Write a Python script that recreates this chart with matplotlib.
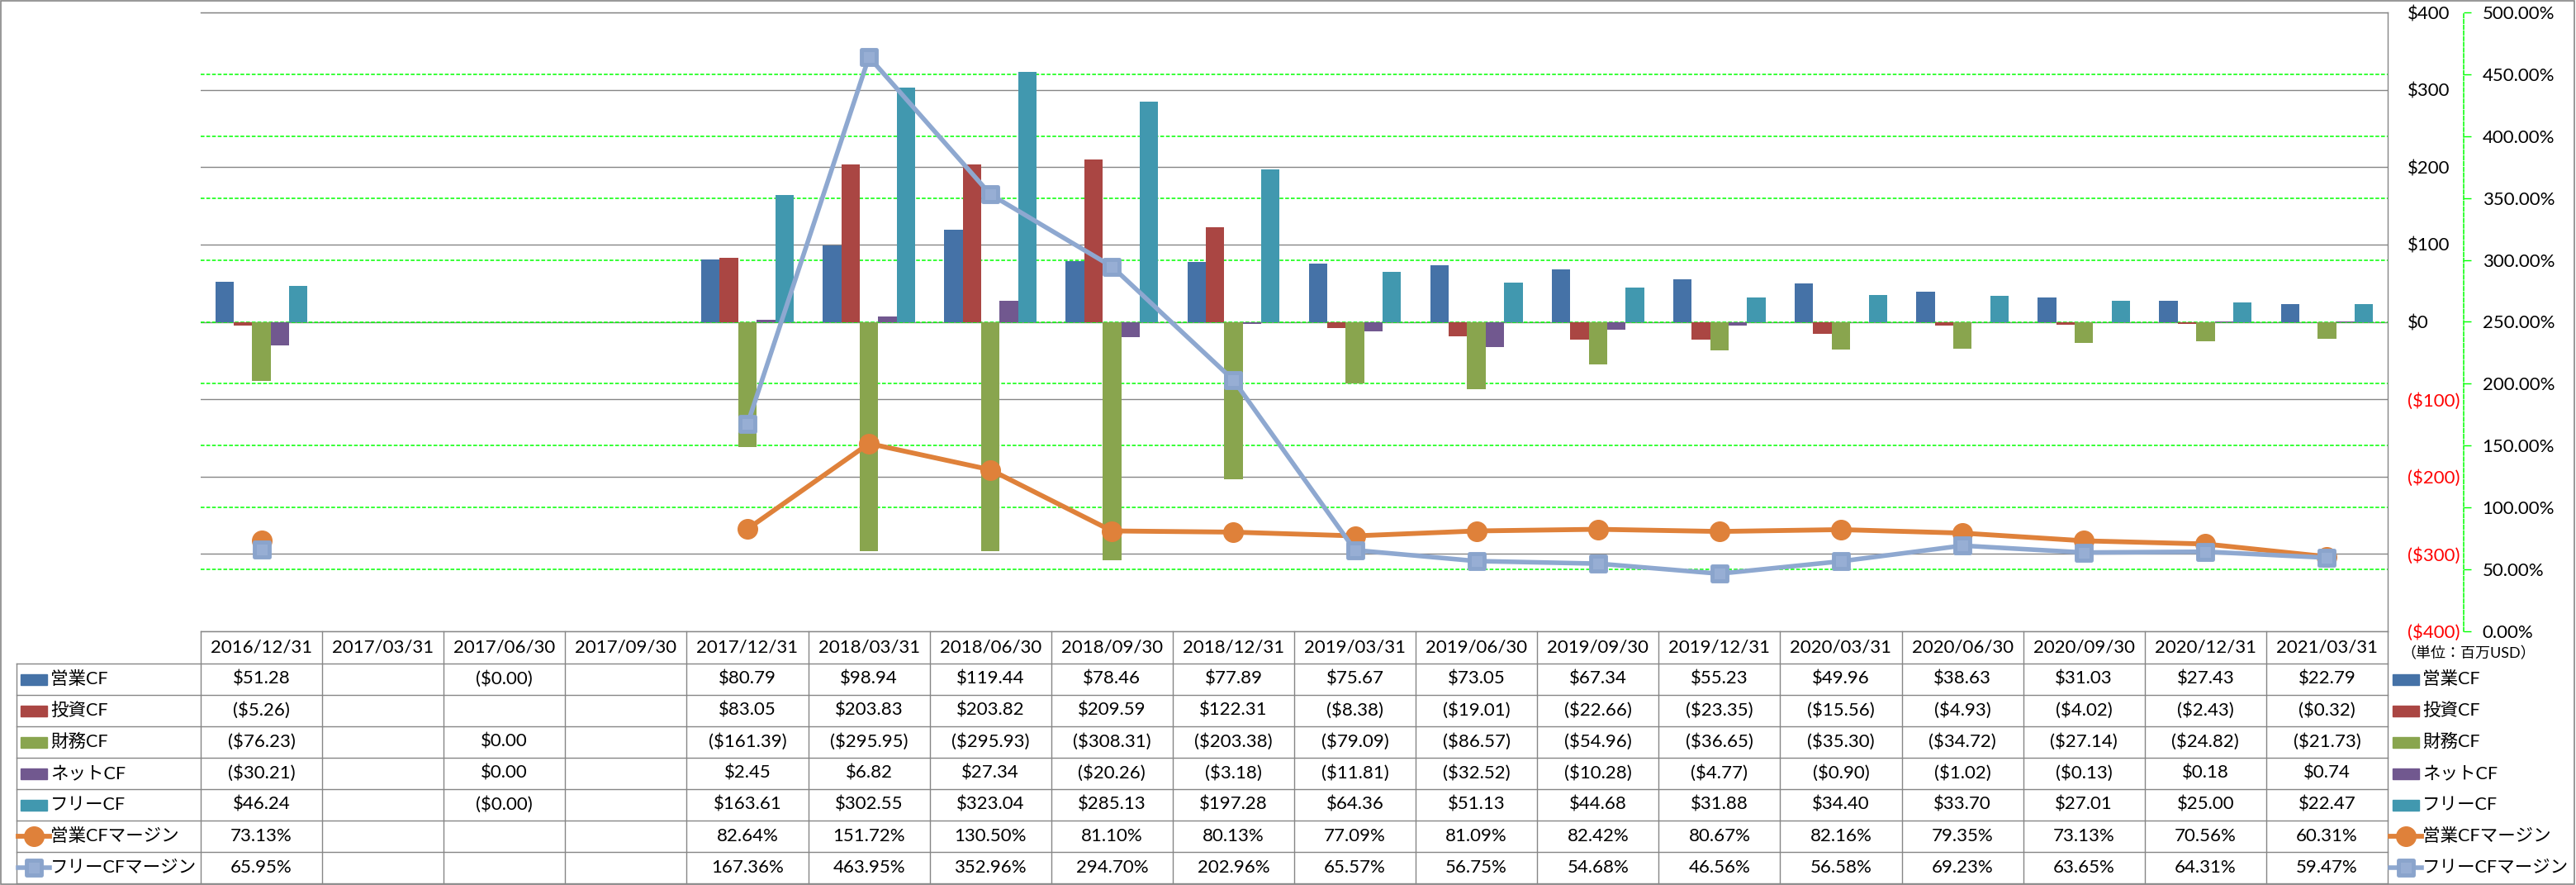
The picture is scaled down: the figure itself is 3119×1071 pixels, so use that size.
import numpy as np
import matplotlib
matplotlib.use('Agg')
import matplotlib.pyplot as plt
from matplotlib.lines import Line2D
from matplotlib.patches import Rectangle
from matplotlib.markers import MarkerStyle
from matplotlib.transforms import blended_transform_factory
from matplotlib.ticker import FuncFormatter

# データ (単位: 百万USD)
nan = np.nan
dates = ['2016/12/31', '2017/03/31', '2017/06/30', '2017/09/30', '2017/12/31', '2018/03/31',
         '2018/06/30', '2018/09/30', '2018/12/31', '2019/03/31', '2019/06/30', '2019/09/30',
         '2019/12/31', '2020/03/31', '2020/06/30', '2020/09/30', '2020/12/31', '2021/03/31']

op_cf = [51.28, nan, -0.0, nan, 80.79, 98.94, 119.44, 78.46, 77.89, 75.67, 73.05, 67.34,
         55.23, 49.96, 38.63, 31.03, 27.43, 22.79]
inv_cf = [-5.26, nan, nan, nan, 83.05, 203.83, 203.82, 209.59, 122.31, -8.38, -19.01, -22.66,
          -23.35, -15.56, -4.93, -4.02, -2.43, -0.32]
fin_cf = [-76.23, nan, 0.00, nan, -161.39, -295.95, -295.93, -308.31, -203.38, -79.09, -86.57,
          -54.96, -36.65, -35.30, -34.72, -27.14, -24.82, -21.73]
net_cf = [-30.21, nan, 0.00, nan, 2.45, 6.82, 27.34, -20.26, -3.18, -11.81, -32.52, -10.28,
          -4.77, -0.90, -1.02, -0.13, 0.18, 0.74]
free_cf = [46.24, nan, -0.0, nan, 163.61, 302.55, 323.04, 285.13, 197.28, 64.36, 51.13, 44.68,
           31.88, 34.40, 33.70, 27.01, 25.00, 22.47]
op_margin = [73.13, nan, nan, nan, 82.64, 151.72, 130.50, 81.10, 80.13, 77.09, 81.09, 82.42,
             80.67, 82.16, 79.35, 73.13, 70.56, 60.31]
free_margin = [65.95, nan, nan, nan, 167.36, 463.95, 352.96, 294.70, 202.96, 65.57, 56.75,
               54.68, 46.56, 56.58, 69.23, 63.65, 64.31, 59.47]

bar_names = ['営業CF', '投資CF', '財務CF', 'ネットCF', 'フリーCF']
bar_series = [op_cf, inv_cf, fin_cf, net_cf, free_cf]
bar_colors = ['#4572A7', '#AA4643', '#89A54E', '#71588F', '#4198AF']
line_names = ['営業CFマージン', 'フリーCFマージン']

ORANGE = '#DF813A'
STEEL = '#8EA8D0'
GRAY = '#868686'
LIME = '#00FF00'

plt.rcParams['font.family'] = ['Lato', 'Noto Sans CJK JP']

W, H = 3119, 1071
fig = plt.figure(figsize=(W / 100, H / 100), dpi=100)


def fx(px):
    return px / W


def fy(py):
    return 1 - py / H


def fmt_usd(v):
    if np.isnan(v):
        return ''
    s = f'${abs(v):,.2f}'
    return f'({s})' if np.signbit(v) else s


def fmt_pct(v):
    return '' if np.isnan(v) else f'{v:.2f}%'


# 軸
ax = fig.add_axes([fx(243), fy(764), fx(2891) - fx(243), fy(15) - fy(764)])
ax2 = ax.twinx()

x = np.arange(len(dates))
bw = 0.152
for k, (vals, col) in enumerate(zip(bar_series, bar_colors)):
    ax.bar(x + (k - 2) * bw, np.nan_to_num(vals), width=bw, color=col, zorder=2)

ax.set_xlim(-0.5, len(dates) - 0.5)
ax.set_ylim(-400, 400)
ax.set_xticks([])
yt = np.arange(-400, 401, 100)
ax.set_yticks(yt)
ax.yaxis.tick_right()
labels = ['$0' if v == 0 else (f'${v}' if v > 0 else f'(${-v})') for v in yt]
ax.set_yticklabels(labels)
for lab, v in zip(ax.get_yticklabels(), yt):
    lab.set_color('#FF0000' if v < 0 else 'black')
ax.tick_params(axis='y', length=0, pad=17, labelsize=16)
ax.grid(axis='y', color=GRAY, lw=1.0)
ax.set_axisbelow(True)
ax.spines['left'].set_visible(False)
for s in ['top', 'right', 'bottom']:
    ax.spines[s].set_color(GRAY)
    ax.spines[s].set_linewidth(1.0)

# 第2軸 (%)
ax2.set_ylim(0, 500)
ax2.set_yticks(np.arange(0, 501, 50))
ax2.yaxis.set_major_formatter(FuncFormatter(lambda v, p: f'{v:.2f}%'))
ax2.tick_params(axis='y', direction='out', length=6.5, width=1, color=LIME, pad=10, labelsize=16)
for s in ['left', 'top', 'bottom']:
    ax2.spines[s].set_visible(False)
ax2.spines['right'].set_position(('outward', 66))
ax2.spines['right'].set_color(LIME)
ax2.spines['right'].set_linewidth(1.1)
ax2.spines['right'].set_linestyle((0, (3, 1.5)))

# 緑の点線グリッド (棒の下)
gtr = blended_transform_factory(ax.transAxes, ax2.transData)
for p in np.arange(50, 500, 50):
    ax.plot([0, 1], [p, p], transform=gtr, color=LIME, lw=1.1, ls=(0, (3, 1.5)), zorder=1)

sq = MarkerStyle('s', joinstyle='round')
orange_kw = dict(color=ORANGE, lw=4.2, marker='o', ms=17, mec=ORANGE)
steel_kw = dict(color=STEEL, lw=4.0, marker=sq, ms=13.5, mfc='#97AED4', mec='#8AA4CC', mew=3.5)
ax2.plot(x, op_margin, zorder=3, **orange_kw)
ax2.plot(x, free_margin, zorder=4, **steel_kw)

# データテーブル
T = blended_transform_factory(ax.transData, fig.transFigure)
row_y = [803 + 38 * i for i in range(8)]
n = len(dates)

for y in row_y:
    fig.add_artist(Line2D([fx(20), fx(2891)], [fy(y), fy(y)], color=GRAY, lw=1.0))
for i in range(n + 1):
    fig.add_artist(Line2D([i - 0.5, i - 0.5], [fy(764), fy(1069)], color=GRAY, lw=1.0, transform=T))
fig.add_artist(Line2D([fx(20), fx(20)], [fy(803), fy(1069)], color=GRAY, lw=1.0))

for i, d in enumerate(dates):
    fig.text(i, fy(783.5), d, transform=T, ha='center', va='center', fontsize=16)

table_rows = [[fmt_usd(v) for v in s] for s in bar_series] + \
             [[fmt_pct(v) for v in s] for s in (op_margin, free_margin)]
for r, row in enumerate(table_rows):
    yc = row_y[r] + 19
    for i, txt in enumerate(row):
        fig.text(i, fy(yc), txt, transform=T, ha='center', va='center', fontsize=16)

# 凡例 (左の列と右側)
all_names = bar_names + line_names


def legend_key(r, x0):
    yc = row_y[r] + 19
    if r < 5:
        fig.add_artist(Rectangle((fx(x0), fy(yc + 6.5)), 32 / W, 13 / H, transform=fig.transFigure,
                                 color=bar_colors[r]))
    else:
        kw = orange_kw if r == 5 else steel_kw
        fig.add_artist(Line2D([fx(x0 - 3), fx(x0 + 16), fx(x0 + 35)], [fy(yc)] * 3,
                              markevery=[1], **kw))
    fig.text(fx(x0 + 36), fy(yc), all_names[r], ha='left', va='center', fontsize=15.5)


for r in range(len(all_names)):
    legend_key(r, 25)
    legend_key(r, 2897)

fig.text(fx(2907), fy(791), '（単位：百万USD）', ha='left', va='center', fontsize=13)

# 外枠
fig.add_artist(Rectangle((fx(0.5), fy(1070)), fx(3116), (1069.5) / H, transform=fig.transFigure,
                         fill=False, edgecolor=GRAY, lw=1.2))

fig.savefig('out.png', dpi=100)
